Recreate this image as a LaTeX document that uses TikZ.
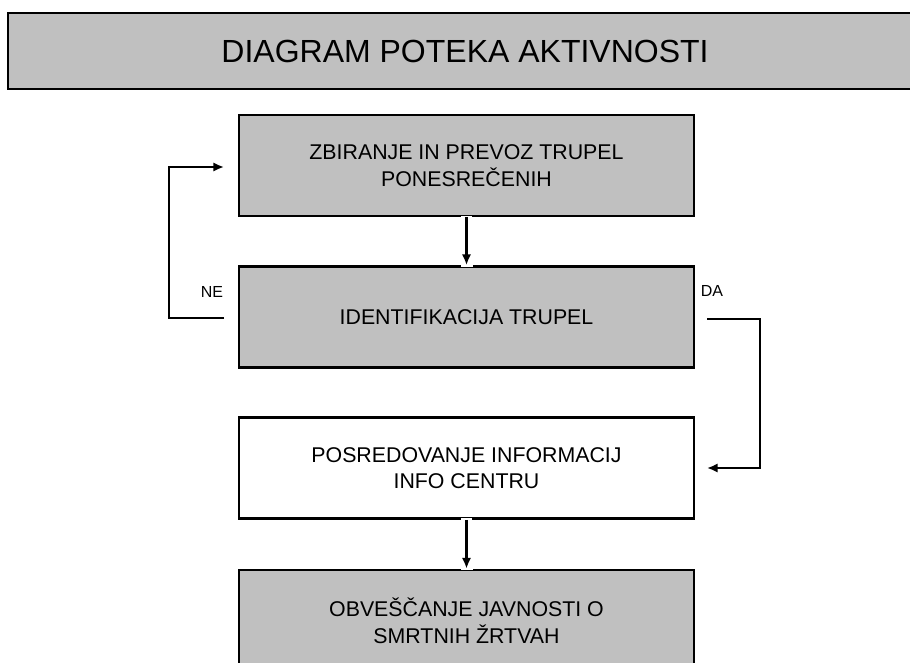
\documentclass[tikz,border=0pt]{standalone}
\usepackage{fontspec}
\setmainfont{Liberation Sans}
\usetikzlibrary{arrows.meta}
\definecolor{boxgray}{HTML}{C0C0C0}
\tikzset{
	flow box/.style={
		draw,
		line width=2.1pt,
		fill=boxgray,
		align=center,
		inner sep=0pt,
		minimum width=341.25pt,
		minimum height=75.75pt,
		font=\fontsize{16}{20}\selectfont
	},
	flow label/.style={
		font=\fontsize{12}{14}\selectfont
	},
	flow arrow/.style={
		-{Latex[length=8pt,width=7pt]},
		preaction={draw=white, line width=8pt,
			shorten <=-1.1pt, shorten >=-1.1pt,
			-{Rectangle[length=3pt,width=9pt]}}
	}
}

\begin{document}
\begin{tikzpicture}[
	x=0.75pt,
	y=-0.75pt,
	line width=1.8pt
]
\clip (0,0) rectangle (910,663);

\node[flow box, minimum width=685.5pt, minimum height=57pt,
	font=\fontsize{24}{28}\selectfont] (title) at (465,51) {DIAGRAM POTEKA AKTIVNOSTI};

\node[flow box] (zbiranje) at (466.5,165.5) {ZBIRANJE IN PREVOZ TRUPEL\\PONESREČENIH};
\node[flow box] (identifikacija) at (466.5,317) {IDENTIFIKACIJA TRUPEL};
\node[flow box, fill=white] (posredovanje) at (466.5,468) {POSREDOVANJE INFORMACIJ\\INFO CENTRU};
\node[flow box] (obvescanje) at (466.5,620.5) {OBVEŠČANJE JAVNOSTI O\\SMRTNIH ŽRTVAH};

\node[flow label] (ne) at (212,292) {NE};
\node[flow label] (da) at (712,291) {DA};

\coordinate (neStart) at (224,318);
\coordinate (neBend) at (169,167);
\coordinate (neEnd) at (224,167);
\coordinate (daStart) at (707,319);
\coordinate (daBend) at (760,468);
\coordinate (daEnd) at (707,468);

\draw[flow arrow] (zbiranje) -- (identifikacija);
\draw[flow arrow] (posredovanje) -- (obvescanje);
\draw[flow arrow] (neStart) -| (neBend) -- (neEnd);
\draw[flow arrow] (daStart) -| (daBend) -- (daEnd);

\end{tikzpicture}
\end{document}
